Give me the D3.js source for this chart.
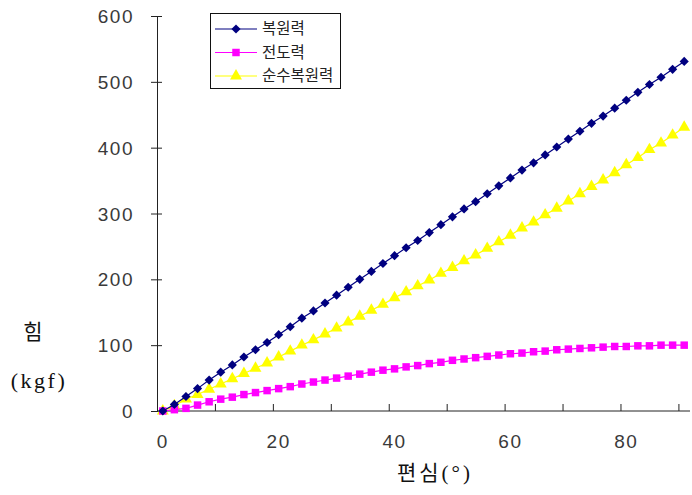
<!DOCTYPE html>
<html><head><meta charset="utf-8">
<script src="https://cdn.jsdelivr.net/npm/d3@7"></script>
<style>body{margin:0;background:#fff}svg{display:block}</style>
</head><body>
<svg id="c" width="692" height="495"></svg>
<script>
const categories = [0,2,4,6,8,10,12,14,16,18,20,22,24,26,28,30,32,34,36,38,40,42,44,46,48,50,52,54,56,58,60,62,64,66,68,70,72,74,76,78,80,82,84,86,88,90];
const restoring = [0,10,22,34,47,59,70,82,93,104,116,128,141,152,164,176,188,200,212,224,236,248,259,271,283,295,307,318,330,342,354,366,377,389,401,413,425,437,448,460,472,484,496,507,519,531];
const overturning = [0,2,4,9,14,18,21,25,28,31,34,37,41,44,47,50,53,56,59,62,64,67,69,72,74,77,79,81,83,85,87,88,90,91,93,94,95,96,97,98,98,99,99,100,100,100];
const netRestoring = [0,8,18,25,33,41,49,57,65,73,82,91,100,108,117,126,135,144,153,162,172,181,190,199,209,218,228,237,247,257,267,278,287,298,308,319,330,341,351,362,374,385,397,407,419,431];
const seriesNames = ["복원력","전도력","순수복원력"];
const yTicks = [0,100,200,300,400,500,600];
const xLabelCats = [0,20,40,60,80];
const xTickIdx = [5,10,15,20,25,30,35,40,45];

const svg = d3.select("#c");
const L=157,R=690,T=16,B=411;
const x = d3.scaleBand().domain(categories).range([L,R]).paddingInner(0).paddingOuter(0);
const xi = d3.scaleLinear().domain([0,categories.length]).range([L,R]);
const y = d3.scaleLinear().domain([0,600]).range([B,T]);
const cx = c => x(c) + x.bandwidth()/2;

// Y axis
const ya = svg.append("g").attr("transform",`translate(${L},0)`)
  .call(d3.axisLeft(y).tickValues(yTicks).tickSize(6).tickPadding(17));
ya.select(".domain").attr("stroke","#222");
ya.selectAll(".tick line").attr("stroke","#222").attr("x1",5);
ya.selectAll(".tick text").attr("font-family","Liberation Sans, Arial, sans-serif")
  .attr("font-size",19).attr("letter-spacing",1.5).attr("fill","#3a3a3a").attr("dy","0.35em");

// X axis: labels at category centers
const xa = svg.append("g").attr("transform",`translate(0,${B})`)
  .call(d3.axisBottom(x).tickValues(xLabelCats).tickSize(0).tickPadding(24));
xa.select(".domain").remove();
xa.selectAll(".tick text").attr("font-family","Liberation Sans, Arial, sans-serif")
  .attr("font-size",19).attr("letter-spacing",1.5).attr("fill","#3a3a3a");
// X axis tick marks between categories
const xt = svg.append("g").attr("transform",`translate(0,${B})`)
  .call(d3.axisBottom(xi).tickValues(xTickIdx).tickSize(-7).tickFormat(""));
xt.select(".domain").attr("d",`M${L},0H${R}`).attr("stroke","#222");
xt.selectAll(".tick line").attr("stroke","#222");

// Series
const series = [
  {name:seriesNames[0], vals:restoring, color:"#000080", sym:"diamond"},
  {name:seriesNames[1], vals:overturning, color:"#ff00ff", sym:"square"},
  {name:seriesNames[2], vals:netRestoring, color:"#ffff00", sym:"triangle"}
];
function marker(g, s, px, py){
  if(s.sym==="diamond"){
    g.append("path").attr("d",d3.symbol().type(d3.symbolSquare).size(42)())
      .attr("transform",`translate(${px},${py}) rotate(45)`).attr("fill",s.color);
  } else if(s.sym==="square"){
    g.append("path").attr("d",d3.symbol().type(d3.symbolSquare).size(56)())
      .attr("transform",`translate(${px},${py})`).attr("fill",s.color);
  } else {
    g.append("path").attr("d",d3.symbol().type(d3.symbolTriangle).size(62)())
      .attr("transform",`translate(${px},${py})`).attr("fill",s.color);
  }
}
const line = d3.line().x((d,i)=>cx(categories[i])).y(d=>y(d));
[series[2],series[1],series[0]].forEach(s=>{
  const g = svg.append("g");
  g.append("path").datum(s.vals).attr("d",line).attr("fill","none").attr("stroke",s.color).attr("stroke-width",1.2);
  s.vals.forEach((v,i)=>marker(g,s,cx(categories[i]),y(v)));
});

// Legend
const lg = svg.append("g");
lg.append("rect").attr("x",210.5).attr("y",13.5).attr("width",130).attr("height",75)
  .attr("fill","#fff").attr("stroke","#111").attr("stroke-width",1);
series.forEach((s,i)=>{
  const yy = 29 + i*23.5;
  lg.append("line").attr("x1",215).attr("x2",257).attr("y1",yy).attr("y2",yy).attr("stroke",s.color).attr("stroke-width",1.2);
  marker(lg,s,236,yy);
  lg.append("text").attr("x",262).attr("y",yy).attr("dy","0.35em").text(s.name)
    .attr("font-family","Noto Sans CJK KR, sans-serif").attr("font-size",15.5).attr("letter-spacing",0).attr("fill","#222");
});

// Axis titles
svg.append("text").attr("x",33).attr("y",332).attr("dy","0.35em").attr("text-anchor","middle")
  .attr("font-family","Noto Sans CJK KR, sans-serif").attr("font-size",21).attr("fill","#111").text("힘");
svg.append("text").attr("x",39).attr("y",380).attr("dy","0.35em").attr("text-anchor","middle")
  .attr("font-family","Liberation Serif, serif").attr("font-size",22).attr("letter-spacing",2.5).attr("fill","#111").text("(kgf)");
svg.append("text").attr("x",435).attr("y",473).attr("dy","0.35em").attr("text-anchor","middle")
  .attr("font-family","Liberation Serif, Noto Sans CJK KR, serif").attr("font-size",21).attr("letter-spacing",3).attr("fill","#111").text("편심(°)");
</script>
</body></html>
